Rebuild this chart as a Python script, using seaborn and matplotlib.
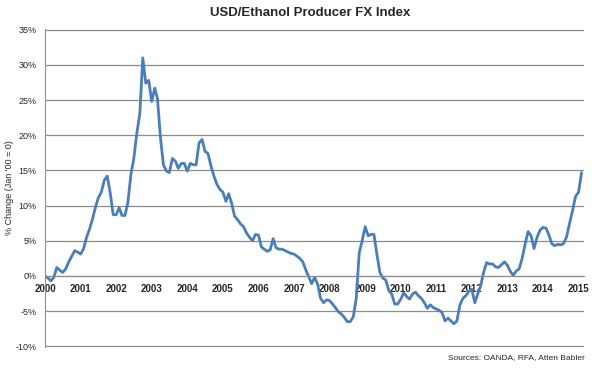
import pandas as pd
import numpy as np
import seaborn as sns
import matplotlib.pyplot as plt
import matplotlib.dates as mdates
from matplotlib.ticker import FuncFormatter

# monthly % change of the index, Jan 2000 = 0
fx_2000 = [0.0, -0.3, -0.7, -0.2, 1.2, 0.8, 0.5, 1.0, 2.0, 2.8, 3.6, 3.4]
fx_2001 = [3.1, 3.9, 5.4, 6.6, 8.0, 9.7, 11.1, 11.9, 13.6, 14.2, 11.8, 8.7]
fx_2002 = [8.7, 9.7, 8.6, 8.6, 10.4, 14.4, 16.7, 20.3, 23.1, 31.0, 27.4, 27.8]
fx_2003 = [24.8, 26.7, 25.2, 19.6, 15.8, 14.9, 14.7, 16.7, 16.3, 15.3, 16.0, 16.0]
fx_2004 = [14.9, 16.0, 15.8, 15.8, 18.9, 19.4, 17.7, 17.4, 15.6, 14.2, 13.0, 12.3]
fx_2005 = [11.9, 10.6, 11.7, 10.3, 8.5, 8.0, 7.4, 7.0, 6.1, 5.5, 5.0, 5.9]
fx_2006 = [5.8, 4.1, 3.8, 3.5, 3.7, 5.3, 4.0, 3.8, 3.8, 3.6, 3.4, 3.2]
fx_2007 = [3.1, 2.8, 2.5, 2.0, 0.9, -0.1, -1.1, -0.2, -1.2, -3.2, -3.8, -3.4]
fx_2008 = [-3.5, -4.0, -4.5, -5.1, -5.4, -5.9, -6.5, -6.5, -5.8, -3.2, 3.3, 5.0]
fx_2009 = [7.0, 5.7, 5.9, 5.9, 3.1, 0.5, -0.3, -0.6, -2.1, -2.6, -4.0, -4.0]
fx_2010 = [-3.3, -2.4, -2.9, -3.3, -2.6, -2.3, -2.8, -3.2, -3.8, -4.6, -4.1, -4.5]
fx_2011 = [-4.7, -4.9, -5.2, -6.4, -6.0, -6.4, -6.8, -6.4, -4.1, -3.2, -2.8, -2.2]
fx_2012 = [-1.9, -3.8, -2.6, -1.4, 0.5, 1.9, 1.7, 1.7, 1.3, 1.2, 1.6, 2.0]
fx_2013 = [1.5, 0.6, 0.1, 0.7, 1.0, 2.5, 4.5, 6.3, 5.7, 3.9, 5.5, 6.5]
fx_2014 = [6.9, 6.8, 5.9, 4.6, 4.3, 4.5, 4.4, 4.6, 5.6, 7.5, 9.3, 11.3]
fx_2015 = [11.9, 14.7]

values = (fx_2000 + fx_2001 + fx_2002 + fx_2003 + fx_2004 + fx_2005 + fx_2006
          + fx_2007 + fx_2008 + fx_2009 + fx_2010 + fx_2011 + fx_2012
          + fx_2013 + fx_2014 + fx_2015)
df = pd.DataFrame({
    'month': pd.date_range('2000-01-01', periods=len(values), freq='MS'),
    'change': values,
})

sns.set_style('white')
plt.rcParams['font.family'] = ['Liberation Sans', 'DejaVu Sans']

fig = plt.figure(figsize=(6, 3.7), dpi=100)
ax = fig.add_axes([0.075, 0.0622, 0.898, 0.8594])

sns.lineplot(data=df, x='month', y='change', ax=ax, color='#4A7EBB', linewidth=2.0)

ax.set_ylim(-10.1, 35.1)
ax.set_yticks(np.arange(-10, 36, 5))
ax.yaxis.set_major_formatter(FuncFormatter(lambda v, p: f'{v:.0f}%'))
ax.set_xlim(pd.Timestamp('2000-01-01'), pd.Timestamp('2015-02-24'))
ax.xaxis.set_major_locator(mdates.YearLocator())
ax.xaxis.set_major_formatter(mdates.DateFormatter('%Y'))

ax.yaxis.grid(True, color='#8c8c8c', linewidth=0.9)
ax.set_axisbelow(True)
for side in ['top', 'right']:
    ax.spines[side].set_visible(False)
ax.spines['left'].set_color('#8c8c8c')
ax.spines['bottom'].set_color('#8c8c8c')
ax.spines['bottom'].set_position(('data', 0))

ax.tick_params(axis='x', direction='out', length=3, color='#8c8c8c',
               labelsize=7, pad=3)
ax.tick_params(axis='y', direction='out', length=3, color='#8c8c8c',
               labelsize=6.5, pad=3)
for lbl in ax.get_xticklabels():
    lbl.set_fontweight('bold')

ax.set_xlabel('')
ax.set_ylabel("% Change (Jan '00 = 0)", fontsize=6.5)
ax.yaxis.set_label_coords(-0.058, 0.5)

fig.text(0.517, 0.965, 'USD/Ethanol Producer FX Index', ha='center', va='center',
         fontsize=9.5, fontweight='bold')
fig.text(0.975, 0.035, 'Sources: OANDA, RFA, Atten Babler', ha='right', va='center',
         fontsize=6)

plt.savefig('out.png', dpi=100)
